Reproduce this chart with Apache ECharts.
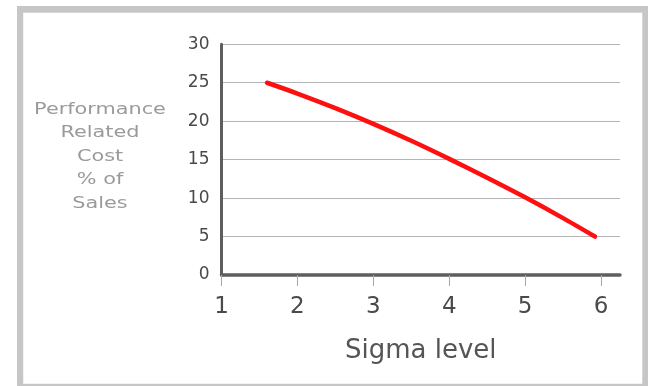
<!DOCTYPE html>
<html>
<head>
<meta charset="utf-8">
<script src="https://cdn.jsdelivr.net/npm/echarts@6/dist/echarts.min.js"></script>
<style>
html,body{margin:0;padding:0;background:#fff;}
#c{width:648px;height:386px;}
</style>
</head>
<body>
<div id="c"></div>
<script>
// Data
const sigmaLevels = [1.6, 2.0, 2.5, 3.0, 3.5, 4.0, 4.5, 5.0, 5.5, 5.92];
const costPercent = [25.0, 23.6, 21.7, 19.65, 17.45, 15.1, 12.65, 10.1, 7.4, 5.0];
const xTicks = [1, 2, 3, 4, 5, 6];
const yTitleLines = ['Performance', 'Related', 'Cost', '% of', 'Sales'];
const xTitle = 'Sigma level';

const chart = echarts.init(document.getElementById('c'), null, {renderer: 'canvas'});
const FONT = 'DejaVu Sans';
chart.setOption({
  animation: false,
  backgroundColor: '#ffffff',
  graphic: [
    {type: 'rect', z: -100, silent: true, shape: {x: 17, y: 6, width: 660, height: 400}, style: {fill: '#c6c6c6'}},
    {type: 'rect', z: -99, silent: true, shape: {x: 23, y: 12.5, width: 619.5, height: 371.5}, style: {fill: '#e6e6e6'}},
    {type: 'rect', z: -98, silent: true, shape: {x: 23.5, y: 13, width: 618.5, height: 370.5}, style: {fill: '#ffffff'}},
    {type: 'text', z: 100, silent: true, x: 100, y: 156.5, scaleX: 1.3,
     style: {text: yTitleLines.join('\n'), x: 0, y: 0, align: 'center', verticalAlign: 'middle',
             font: '16px "' + FONT + '"', fill: '#9a9a9a', lineHeight: 23.5}}
  ],
  grid: {left: 221.5, top: 44.3, width: 398.5, height: 230.7, containLabel: false},
  xAxis: {
    type: 'value', min: 1, max: 6.25, interval: 1,
    name: xTitle, nameLocation: 'middle', nameGap: 63,
    nameTextStyle: {fontFamily: FONT, fontSize: 26, color: '#555555'},
    axisLine: {show: true, onZero: false, lineStyle: {color: '#5e5e5e', width: 3.5}},
    axisTick: {show: true, length: 11, customValues: xTicks, lineStyle: {color: '#a8a8a8', width: 1}},
    axisLabel: {customValues: xTicks, margin: 21, fontFamily: FONT, fontSize: 23, color: '#4a4a4a'},
    splitLine: {show: false}
  },
  yAxis: {
    type: 'value', min: 0, max: 30, interval: 5,
    axisLine: {show: true, lineStyle: {color: '#5e5e5e', width: 3}},
    axisTick: {show: false},
    axisLabel: {margin: 12, fontFamily: FONT, fontSize: 17, color: '#4a4a4a'},
    splitLine: {show: true, lineStyle: {color: '#b4b4b4', width: 1}}
  },
  series: [{
    type: 'line', smooth: 0.3, showSymbol: false, symbol: 'none',
    data: sigmaLevels.map((x, i) => [x, costPercent[i]]),
    lineStyle: {color: '#ff1010', width: 4.5, cap: 'round'}
  }]
});
</script>
</body>
</html>
